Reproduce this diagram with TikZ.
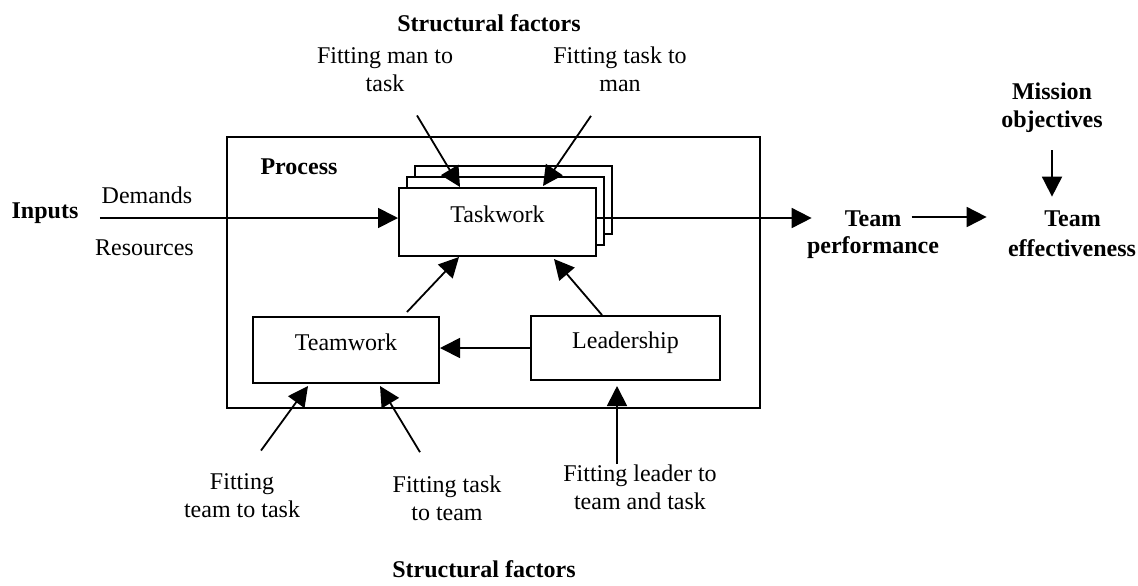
\documentclass[tikz,border=0pt]{standalone}
\usepackage{fontspec}
\setmainfont{Liberation Serif}
\usetikzlibrary{arrows.meta,calc}
\begin{document}
\begin{tikzpicture}[x=0.5pt,y=-0.5pt,
  font=\fontsize{12}{14}\selectfont,
  frame/.style={draw, line width=1pt, inner sep=0pt},
  box/.style={draw, line width=1pt, fill=white, inner sep=0pt, text depth=8pt},
  taskbox/.style={box, minimum width=98.5pt, minimum height=34pt},
  arr/.style={line width=0.9pt, -{Triangle[length=10pt,width=10pt]}},
  txt/.style={inner sep=0pt, align=center},
  bold/.style={txt, font=\fontsize{12}{14}\selectfont\bfseries}]
\useasboundingbox (0,0) rectangle (1138,585);

% process frame
\node[frame, minimum width=266.5pt, minimum height=135.5pt] (proc) at (493.5,272.5) {};
\node[bold] (proclab) at (299,167) {Process};

% stacked taskwork boxes
\node[taskbox] (back) at (513.5,200) {};
\node[taskbox] (mid) at (505.5,211) {};
\node[taskbox] (task) at (497.5,222) {Taskwork};

\node[box, minimum width=93pt, minimum height=33pt] (team) at (346,350) {Teamwork};
\node[box, minimum width=94.5pt, minimum height=32pt] (lead) at (625.5,348) {Leadership};

% labels
\node[bold] (sftop) at (489,23) {Structural factors};
\node[txt] (fmt) at (385,70) {Fitting man to\\task};
\node[txt] (ftm) at (620,69) {Fitting task to\\man};
\node[bold] (inputs) at (45,213) {Inputs};
\node[txt] (dem) at (147,195) {Demands};
\node[txt] (res) at (144.5,248) {Resources};
\node[bold] (perf1) at (873,219) {Team};
\node[bold] (perf2) at (873,248) {performance};
\node[bold] (eff1) at (1072.5,219) {Team};
\node[bold] (eff2) at (1072,248) {effectiveness};
\node[bold] (mis) at (1052,108) {Mission\\objectives};
\node[txt] (ftt) at (242,496) {Fitting\\team to task};
\node[txt] (ftk) at (447,498) {Fitting task\\to team};
\node[txt] (flt) at (640,487) {Fitting leader to\\team and task};
\node[bold] (sfbot) at (484,569) {Structural factors};

% connectors
\draw[arr] ([shift={(21,5)}]inputs.east) -- ([yshift=2pt]task.west);
\draw[arr] ([yshift=2pt]task.east) -- ($(perf2.west |- perf1.center)+(5,-1)$);
\draw[arr] ([shift={(10,-2)}]perf1.east) -- ($(eff2.west |- perf1.center)+(-21,-2)$);
\draw[arr] ($(mis.south)+(0,17)$) -- ($(mis.south |- eff1.north)+(0,-14)$);

\draw[arr] ([shift={(32,23)}]fmt.south) -- ([shift={(-37.5,0)}]task.north);
\draw[arr] ([shift={(-29,24)}]ftm.south) -- ([shift={(45.5,-1)}]task.north);

\draw[arr] ([shift={(61,-4)}]team.north) -- ([shift={(-38.5,0)}]task.south);
\draw[arr] ([shift={(-23.5,0)}]lead.north) -- ([shift={(56.5,2)}]task.south);
\draw[arr] (lead.west) -- (lead.west -| team.east);

\draw[arr] ([shift={(19,-23)}]ftt.north) -- ([shift={(-38,2)}]team.south);
\draw[arr] ([shift={(-27,-23)}]ftk.north) -- ([shift={(34,2)}]team.south);
\draw[arr] ([shift={(-23,0)}]flt.north) -- ([shift={(-8.5,5)}]lead.south);
\end{tikzpicture}
\end{document}
